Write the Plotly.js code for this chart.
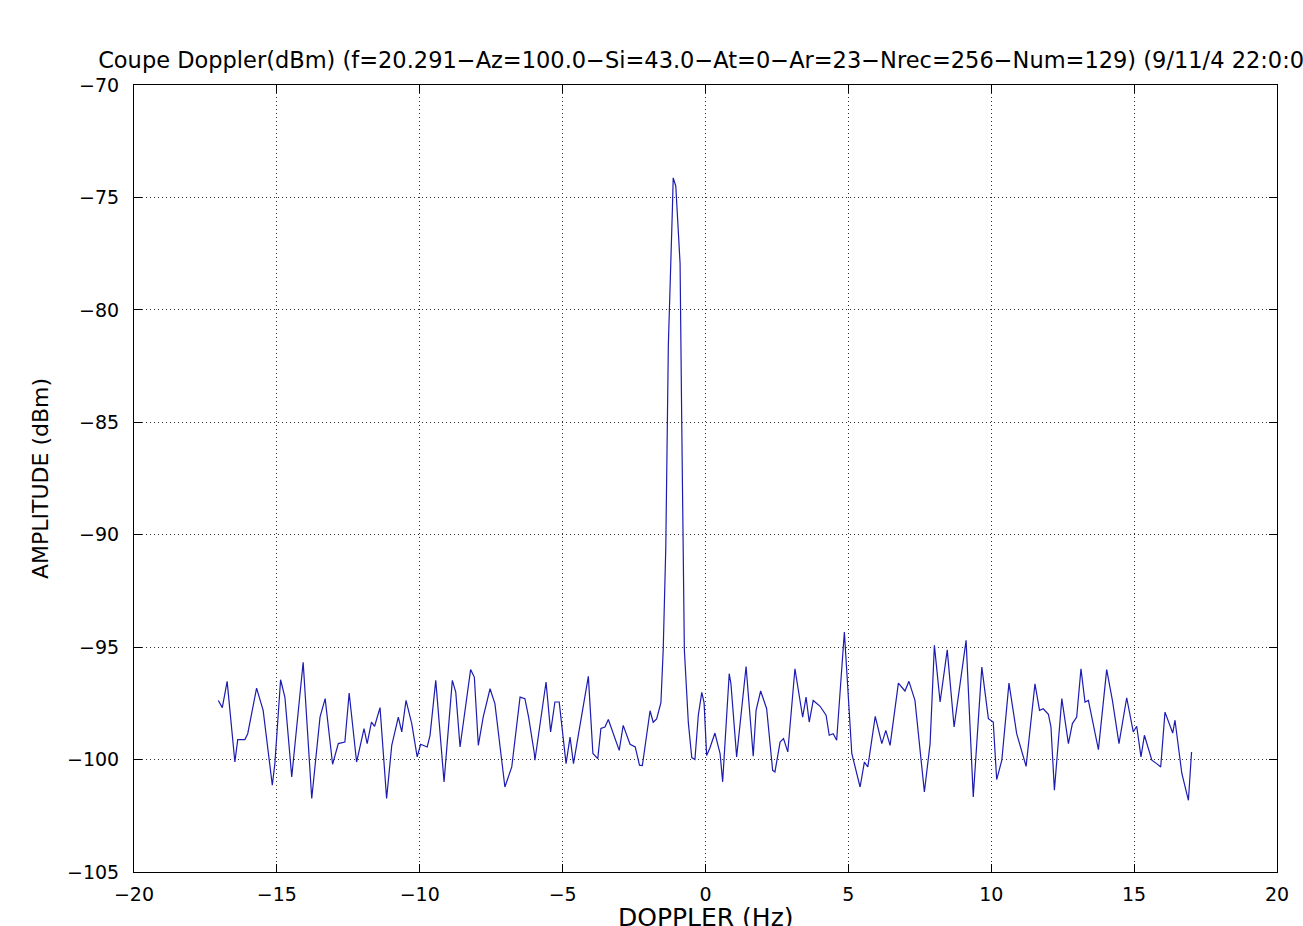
<!DOCTYPE html>
<html>
<head>
<meta charset="utf-8">
<script src="https://cdn.plot.ly/plotly-3.0.1.min.js"></script>
<style>html,body{margin:0;padding:0;background:#fff;overflow:hidden}#chart{width:1303px;height:926px}</style>
</head>
<body>
<div id="chart"></div>
<script>
// Doppler frequency (Hz)
const doppler = [
-17.05,-16.91,-16.74,-16.47,-16.37,-16.12,-16.02,-15.71,-15.48,-15.16,-15.07,-14.87,-14.72,-14.48,-14.08,-13.78,
-13.49,-13.31,-13.05,-12.85,-12.62,-12.47,-12.21,-11.95,-11.84,-11.69,-11.58,-11.39,-11.16,-10.98,-10.75,-10.63,-10.48,-10.28,-10.09,-9.97,-9.74,-9.64,
-9.44,-9.15,-8.86,-8.74,-8.59,-8.22,-8.09,-7.95,-7.78,-7.54,-7.37,-7.02,-6.78,-6.49,-6.32,-6.19,-5.99,
-5.97,-5.58,-5.42,-5.27,-5.12,-4.88,-4.74,-4.62,-4.10,-3.94,-3.77,-3.66,-3.52,-3.40,-3.02,-2.88,-2.64,-2.46,-2.31,
-2.21,-1.94,-1.83,-1.71,-1.56,-1.48,-1.39,-1.30,-1.16,-1.13,-1.04,-0.89,-0.83,-0.74,-0.60,-0.48,-0.37,-0.25,-0.13,-0.05,0.04,0.16,0.33,
0.51,0.60,0.83,0.89,1.09,1.42,1.67,1.77,1.93,2.14,2.35,2.43,2.61,2.73,2.88,3.13,3.40,3.52,3.63,3.77,4.01,4.22,4.33,
4.47,4.59,4.86,5.12,5.41,5.56,5.68,5.94,6.17,6.31,6.46,6.75,6.98,7.12,7.33,7.66,7.86,8.01,
8.21,8.46,8.70,9.12,9.37,9.47,9.67,9.90,10.07,10.19,10.37,10.62,10.89,11.22,11.53,11.69,
11.82,12.00,12.09,12.21,12.47,12.70,12.84,12.99,13.14,13.28,13.40,13.75,14.04,14.24,14.47,14.74,14.97,15.09,15.24,15.36,
15.62,15.79,15.93,16.08,16.35,16.43,16.67,16.90,17.01
];
// Amplitude (dBm)
const amplitude = [
-97.37,-97.69,-96.52,-100.11,-99.11,-99.11,-98.85,-96.82,-97.81,-101.14,-100.18,-96.45,-97.22,-100.77,-95.67,-101.73,
-98.11,-97.29,-100.21,-99.29,-99.22,-97.04,-100.11,-98.62,-99.29,-98.33,-98.52,-97.69,-101.73,-99.37,-98.11,-98.77,-97.37,-98.40,-99.88,-99.32,-99.44,-98.92,
-96.48,-100.99,-96.48,-97.00,-99.44,-96.00,-96.33,-99.37,-98.11,-96.85,-97.51,-101.22,-100.33,-97.22,-97.29,-98.11,-99.73,
-100.03,-96.55,-98.77,-97.44,-97.44,-100.18,-99.00,-100.18,-96.30,-99.73,-99.96,-98.62,-98.55,-98.22,-99.59,-98.48,-99.32,-99.44,-100.25,
-100.27,-97.83,-98.34,-98.19,-97.47,-95.12,-90.59,-81.55,-75.58,-74.13,-74.49,-77.93,-85.17,-95.12,-98.37,-99.91,-100.00,-98.01,-97.01,-97.47,-99.82,-99.46,-98.82,
-99.73,-100.99,-96.18,-96.63,-99.88,-95.86,-99.85,-97.81,-96.95,-97.74,-100.48,-100.55,-99.22,-99.07,-99.66,-95.96,-98.11,-97.22,-98.33,-97.37,-97.63,-98.03,-98.92,
-98.85,-99.14,-94.33,-99.73,-101.22,-100.11,-100.33,-98.08,-99.29,-98.70,-99.37,-96.60,-96.95,-96.52,-97.37,-101.44,-99.29,-94.92,
-97.44,-95.12,-98.55,-94.70,-101.66,-99.88,-95.89,-98.18,-98.33,-100.89,-100.03,-96.60,-98.85,-100.30,-96.63,-97.81,
-97.74,-97.99,-98.55,-101.36,-97.29,-99.29,-98.40,-98.11,-95.96,-97.44,-97.37,-99.56,-96.00,-97.37,-99.29,-97.25,-98.77,-98.52,-99.88,-98.92,
-100.03,-100.18,-100.33,-97.89,-98.82,-98.25,-100.62,-101.81,-99.66
];
const xTicks = [-20,-15,-10,-5,0,5,10,15,20];
const yTicks = [-105,-100,-95,-90,-85,-80,-75,-70];
const titleText = 'Coupe Doppler(dBm) (f=20.291\u2212Az=100.0\u2212Si=43.0\u2212At=0\u2212Ar=23\u2212Nrec=256\u2212Num=129) (9/11/4 22:0:0)';
const xTitle = 'DOPPLER (Hz)';
const yTitle = 'AMPLITUDE (dBm)';

const fam = 'DejaVu Sans, Liberation Sans, Arial, sans-serif';
const tickFont = {family: fam, size: 19, color: '#000'};
const axisCommon = {
  showline: true, linecolor: '#000', linewidth: 1, mirror: 'allticks',
  ticks: 'inside', ticklen: 8, tickcolor: '#000', tickwidth: 1,
  showgrid: true, gridcolor: '#333', griddash: '1px,3px', gridwidth: 1,
  zeroline: false, tickfont: tickFont
};
Plotly.newPlot('chart', [{
  x: doppler, y: amplitude, type: 'scatter', mode: 'lines',
  line: {color: '#1c1cb0', width: 1.2}, hoverinfo: 'skip'
}], {
  width: 1303, height: 926,
  margin: {l: 134, r: 26, t: 85, b: 54},
  paper_bgcolor: '#fff', plot_bgcolor: '#fff',
  showlegend: false,
  title: {text: titleText, font: {family: fam, size: 22.5, color: '#000'}, x: 0.5, xref: 'paper', xanchor: 'center', y: 1, yref: 'paper', yanchor: 'bottom', pad: {b: 17}},
  xaxis: Object.assign({}, axisCommon, {
    range: [-20, 20], tickmode: 'array', tickvals: xTicks, ticktext: xTicks.map(v => v < 0 ? '\u2212' + Math.abs(v) : String(v)),
    ticklabelstandoff: 5
  }),
  yaxis: Object.assign({}, axisCommon, {
    range: [-105, -70], tickmode: 'array', tickvals: yTicks, ticktext: yTicks.map(v => '\u2212' + Math.abs(v)),
    ticklabelstandoff: 10,
    title: {text: yTitle, font: {family: fam, size: 22, color: '#000'}, standoff: 12}
  }),
  annotations: [{
    text: xTitle, xref: 'paper', yref: 'paper', x: 0.5, y: -0.058,
    xanchor: 'center', yanchor: 'middle', showarrow: false,
    font: {family: fam, size: 25, color: '#000'}
  }]
}, {displayModeBar: false, staticPlot: true});
</script>
</body>
</html>
